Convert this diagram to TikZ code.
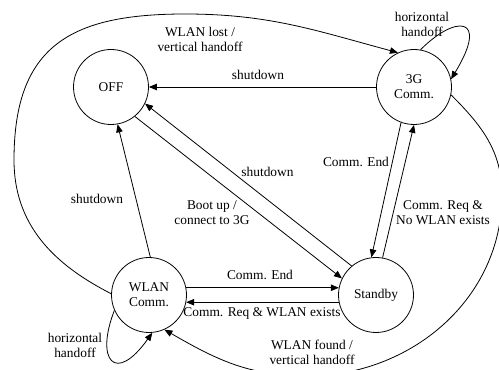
\documentclass[tikz,border=0pt]{standalone}
\usepackage{fontspec}
\setmainfont{Liberation Serif}
\newfontfamily\diagfont{Liberation Serif}
\usetikzlibrary{arrows.meta}
\begin{document}
\begin{tikzpicture}[x=1pt,y=1pt,
  every node/.style={font=\diagfont\fontsize{13.4}{15.2}\selectfont},
  state/.style={draw,circle,line width=0.8pt,minimum size=75pt,inner sep=0pt,align=center},
  lbl/.style={inner sep=0pt,align=center},
  edge/.style={line width=0.8pt,-{Triangle[length=8pt,width=6.5pt]}}]
  \useasboundingbox (0,0) rectangle (499,370);
  \clip (0,0) rectangle (499,370);

  % states
  \node[state] (off) at (111,283) {OFF};
  \node[state] (g3) at (414,283) {3G\\Comm.};
  \node[state] (wlan) at (149,75) {WLAN\\Comm.};
  \node[state] (stb) at (376,75) {Standby};

  % shutdown transitions
  \draw[edge] (g3.180) -- (off.0);
  \draw[edge] (stb.130) -- (off.-26);
  \draw[edge] (wlan.88) -- (off.-80);
  \draw[edge] (off.-51) -- (stb.154);

  % 3G <-> Standby
  \draw[edge] (g3.-110) -- (stb.97);
  \draw[edge] (stb.80) -- (g3.-90);

  % WLAN <-> Standby
  \draw[edge] (wlan.11) -- (stb.169);
  \draw[edge] (stb.-169) -- (wlan.-11);

  % self loops
  \draw[edge] (g3.80) .. controls (455,355) and (490,355) .. (g3.12);
  \draw[edge] (wlan.-156) .. controls (95,10) and (115,-15) .. (wlan.-85);

  % vertical handoffs
  \draw[edge] (wlan.178) to[out=153,in=-90] (14,210)
    to[out=90,in=180,looseness=1.3] (185,356)
    to[out=0,in=165] (g3.115);
  \draw[edge] (g3.-12) to[out=-45,in=90] (502,175)
    to[out=-90,in=0] (307,-6)
    to[out=180,in=-30] (wlan.-66);

  % transition labels
  \node[lbl] (l1) at (258,295) {shutdown};
  \node[lbl] (l2) at (200,330.5) {WLAN lost /\\vertical handoff};
  \node[lbl] (l3) at (422,345.5) {horizontal\\handoff};
  \node[lbl] (l4) at (267.5,198) {shutdown};
  \node[lbl] (l5) at (212,157.5) {Boot up /\\connect to 3G};
  \node[lbl] (l6) at (97,171) {shutdown};
  \node[lbl] (l7) at (356,208) {Comm. End};
  \node[lbl] (l8) at (443,157) {Comm. Req \&\\No WLAN exists};
  \node[lbl] (l9) at (260,95) {Comm. End};
  \node[lbl] (l10) at (262,57) {Comm. Req \& WLAN exists};
  \node[lbl] (l11) at (75,24.5) {horizontal\\handoff};
  \node[lbl] (l12) at (312,17.5) {WLAN found /\\vertical handoff};
\end{tikzpicture}
\end{document}
